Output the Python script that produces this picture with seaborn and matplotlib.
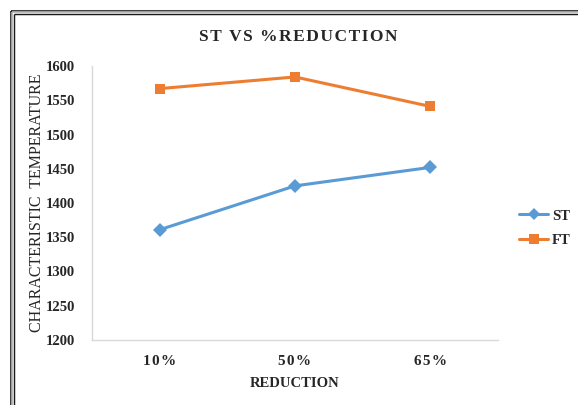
import matplotlib
matplotlib.use("Agg")
import matplotlib.pyplot as plt
from matplotlib.lines import Line2D
import pandas as pd
import seaborn as sns

reduction = ["10%", "50%", "65%"]
st_values = [1361, 1425, 1452]
ft_values = [1567, 1584, 1541]
series_names = ["ST", "FT"]
y_ticks = [1200, 1250, 1300, 1350, 1400, 1450, 1500, 1550, 1600]

df = pd.DataFrame({
    "pos": list(range(len(reduction))) * 2,
    "value": st_values + ft_values,
    "series": [series_names[0]] * len(reduction) + [series_names[1]] * len(reduction),
})

sns.set_theme(style="white")
plt.rcParams["font.family"] = ["Liberation Serif", "DejaVu Serif"]

W, H = 578, 405
fig = plt.figure(figsize=(W / 100, H / 100), dpi=100)
ax = fig.add_axes([92 / W, 1 - 340 / H, (498 - 92) / W, (340 - 66) / H])

palette = {"ST": "#5B9BD5", "FT": "#ED7D31"}
sns.lineplot(data=df, x="pos", y="value", hue="series", style="series",
             markers={"ST": "D", "FT": "s"}, dashes=False, palette=palette,
             linewidth=2.2, markersize=7, markeredgewidth=0, ax=ax, legend=False)

ax.set_xlim(-0.5, 2.5)
ax.set_ylim(1200, 1600)
ax.set_xticks(range(len(reduction)))
# tick labels are set with a little letter spacing
ax.set_xticklabels(["\u200a".join(r) for r in reduction], fontsize=11, fontweight="bold")
ax.set_yticks(y_ticks)
ax.set_yticklabels([str(v) for v in y_ticks], fontsize=10.5, fontweight="bold")
ax.tick_params(axis="y", length=0, pad=12)
ax.tick_params(axis="x", length=0, pad=11)
ax.set_xlabel("REDUCTION", fontsize=10.5, fontweight="bold", labelpad=6)
ax.set_ylabel("CHARACTERISTIC  TEMPERATURE", fontsize=11.5, labelpad=1)

for side in ["top", "right"]:
    ax.spines[side].set_visible(False)
for side in ["left", "bottom"]:
    ax.spines[side].set_color("#D9D9D9")
    ax.spines[side].set_linewidth(1.0)

fig.text(298 / W, 1 - 37 / H, "\u200a".join("ST VS %REDUCTION"),
         ha="center", va="center", fontsize=12.5, fontweight="bold")

handles = [
    Line2D([], [], color=palette["ST"], marker="D", markersize=6, markeredgewidth=0, linewidth=2.2),
    Line2D([], [], color=palette["FT"], marker="s", markersize=7, markeredgewidth=0, linewidth=2.2),
]
fig.legend(handles, series_names, loc="center left",
           bbox_to_anchor=(519 / W, 1 - 228 / H), frameon=False, borderpad=0,
           borderaxespad=0, prop={"weight": "bold", "size": 10.5}, handlelength=2.0,
           handletextpad=0.25, labelspacing=0.75)

# double frame around the chart area
for off, lw, col in [(10.5, 1.6, "#1a1a1a"), (12.0, 1.6, "#b0b0b0"), (13.5, 1.4, "#1a1a1a")]:
    fig.add_artist(Line2D([off / W, off / W], [0, 1 - off / H], transform=fig.transFigure,
                          color=col, linewidth=lw * 0.75, solid_capstyle="butt"))
    fig.add_artist(Line2D([off / W, 1], [1 - off / H, 1 - off / H], transform=fig.transFigure,
                          color=col, linewidth=lw * 0.75, solid_capstyle="butt"))

fig.savefig("out.png", dpi=100)
